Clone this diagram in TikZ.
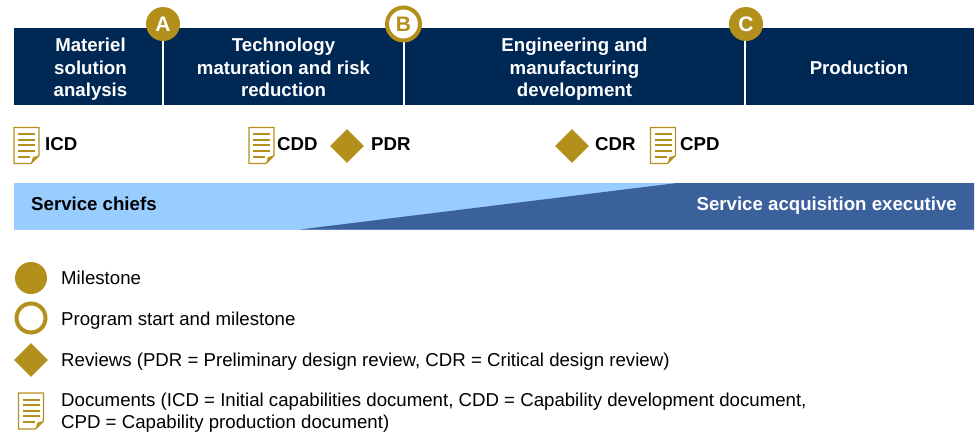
\documentclass[tikz,border=0pt]{standalone}
\usepackage{tikz}
\usetikzlibrary{shapes}
\usepackage{fontspec}
\setmainfont{Liberation Sans}
\definecolor{navy}{HTML}{002855}
\definecolor{gold}{HTML}{B38F1C}
\definecolor{paleblue}{HTML}{99CCFF}
\definecolor{midblue}{HTML}{3B619D}
\tikzset{
  txt/.style={inner sep=0pt,text height=13.4bp,text depth=0pt,font=\fontsize{18.65bp}{22.5bp}\selectfont},
  boldtxt/.style={txt,font=\fontsize{18.65bp}{22.5bp}\selectfont\bfseries},
  phase/.style={draw=none,fill=navy,inner sep=0pt,minimum height=77bp},
  phasetxt/.style={boldtxt,text=white,align=center},
  threelines/.style={text height=58.4bp},
  twolines/.style={text height=35.9bp},
  milestone/.style={draw=none,circle,fill=gold,inner sep=0pt,minimum size=34bp,text=white,font=\fontsize{21bp}{21bp}\selectfont\bfseries},
  startmark/.style={draw=gold,circle,fill=white,line width=4bp,inner sep=0pt,minimum size=33bp,text=gold,font=\fontsize{21bp}{21bp}\selectfont\bfseries},
  review/.style={draw=none,diamond,fill=gold,inner sep=0pt,minimum width=34bp,minimum height=34bp},
  docpage/.pic={
    \draw [gold,line width=1.3bp,fill=white] (0bp,0bp) -- (25bp,0bp) -- (25bp,-28bp) -- (17bp,-36bp) -- (0bp,-36bp) -- cycle;
    \fill [gold] (25bp,-28bp) -- (19bp,-29.5bp) -- (17bp,-36bp) -- cycle;
    \foreach \y in {-6.5,-12,-17.5,-23} \draw [gold,line width=2bp] (4bp,\y bp) -- (21bp,\y bp);
    \draw [gold,line width=2bp] (4bp,-29bp) -- (16bp,-29bp);
  }
}
\begin{document}
\begin{tikzpicture}
\useasboundingbox (0bp,0bp) rectangle (975bp,-434bp);

\node (MSA) at (88bp,-66.5bp)[phase,minimum width=148bp] {};
\node (TMRR) at (283.5bp,-66.5bp)[phase,minimum width=239bp] {};
\node (EMD) at (574.5bp,-66.5bp)[phase,minimum width=339bp] {};
\node (PROD) at (860bp,-66.5bp)[phase,minimum width=228bp] {};
\node (MSAtxt) at (90.5bp,-67.5bp)[phasetxt,threelines] {Materiel\\solution\\analysis};
\node (TMRRtxt) at (283.5bp,-67.5bp)[phasetxt,threelines] {Technology\\maturation and risk\\reduction};
\node (EMDtxt) at (574.5bp,-67.5bp)[phasetxt,threelines] {Engineering and\\manufacturing\\development};
\node (PRODtxt) at (859bp,-67.5bp)[phasetxt] {Production};

\node (A) at (163bp,-24bp)[milestone] {A};
\node (B) at (403.5bp,-24bp)[startmark] {B};
\node (C) at (746bp,-24bp)[milestone] {C};

\pic (ICDdoc) at (14bp,-127.5bp) {docpage};
\node (ICD) at (45bp,-144bp)[boldtxt,anchor=west] {ICD};
\pic (CDDdoc) at (249bp,-127.5bp) {docpage};
\node (CDD) at (277bp,-144bp)[boldtxt,anchor=west] {CDD};
\node (PDRmark) at (347bp,-146bp)[review] {};
\node (PDR) at (371bp,-144bp)[boldtxt,anchor=west] {PDR};
\node (CDRmark) at (572bp,-146bp)[review] {};
\node (CDR) at (595bp,-144bp)[boldtxt,anchor=west] {CDR};
\pic (CPDdoc) at (650.5bp,-127.5bp) {docpage};
\node (CPD) at (680bp,-144bp)[boldtxt,anchor=west] {CPD};

\fill [paleblue] (14bp,-183bp) rectangle (974bp,-229.5bp);
\fill [midblue] (300bp,-229.5bp) -- (677bp,-183bp) -- (974bp,-183bp) -- (974bp,-229.5bp) -- cycle;
\node (chiefs) at (31bp,-204bp)[boldtxt,anchor=west] {Service chiefs};
\node (executive) at (957bp,-204bp)[boldtxt,anchor=east,text=white] {Service acquisition executive};

\node (keyA) at (31bp,-278bp)[milestone,minimum size=32bp] {};
\node (keyAtxt) at (61bp,-278bp)[txt,anchor=west] {Milestone};
\node (keyB) at (31bp,-318bp)[startmark,minimum size=29bp] {};
\node (keyBtxt) at (61bp,-319bp)[txt,anchor=west] {Program start and milestone};
\node (keyC) at (31bp,-360bp)[review] {};
\node (keyCtxt) at (61bp,-360bp)[txt,anchor=west] {Reviews (PDR = Preliminary design review, CDR = Critical design review)};
\pic (keyD) at (18.5bp,-393bp) {docpage};
\node (keyDtxt) at (61bp,-411bp)[txt,twolines,anchor=west,align=left] {Documents (ICD = Initial capabilities document, CDD = Capability development document,\\CPD = Capability production document)};
\end{tikzpicture}
\end{document}
